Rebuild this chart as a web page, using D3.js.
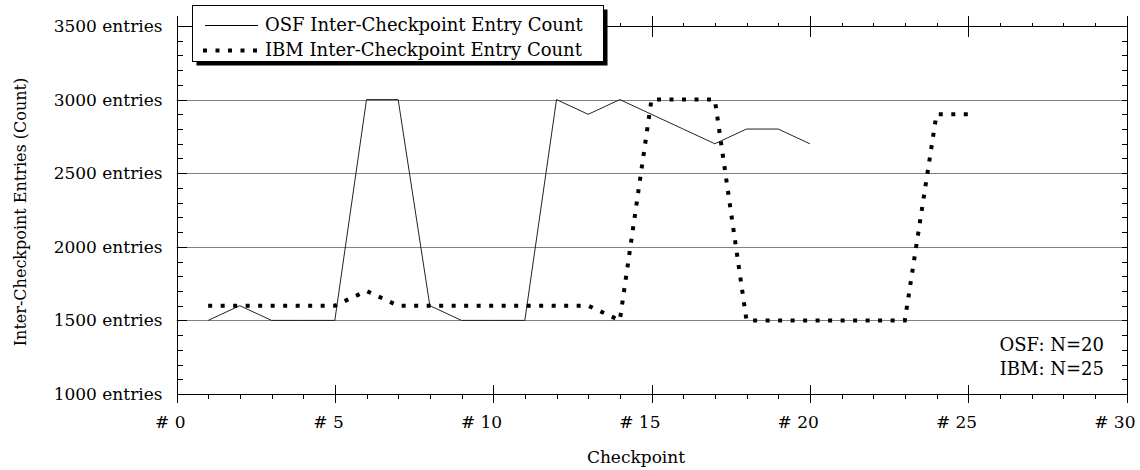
<!DOCTYPE html>
<html>
<head>
<meta charset="utf-8">
<script src="https://cdn.jsdelivr.net/npm/d3@7/dist/d3.min.js"></script>
<style>
body{margin:0;background:#fff;}
text{font-family:"DejaVu Serif",serif;font-size:17px;fill:#000;}
</style>
</head>
<body>
<div id="plot"></div>
<script>
//data
var osfCheckpoints = [1,2,3,4,5,6,7,8,9,10,11,12,13,14,15,16,17,18,19,20];
var osfCounts = [1500,1600,1500,1500,1500,3000,3000,1600,1500,1500,1500,3000,2900,3000,2900,2800,2700,2800,2800,2700];
var ibmCheckpoints = [1,2,3,4,5,6,7,8,9,10,11,12,13,14,15,16,17,18,19,20,21,22,23,24,25];
var ibmCounts = [1600,1600,1600,1600,1600,1700,1600,1600,1600,1600,1600,1600,1600,1500,3000,3000,3000,1500,1500,1500,1500,1500,1500,2900,2900];

var xTicks = [0,5,10,15,20,25,30];
var yTicks = [1000,1500,2000,2500,3000,3500];
var gridValues = [1500,2000,2500,3000];
var seriesNames = ['OSF Inter-Checkpoint Entry Count','IBM Inter-Checkpoint Entry Count'];
var noteLines = ['OSF: N=20','IBM: N=25'];

var margin = {t:26,r:13.5,b:76,l:176.5};
var width = 1140-margin.l-margin.r,
	height = 470-margin.t-margin.b;

var svg = d3.select('#plot')
	.append('svg')
	.attr('width',1140)
	.attr('height',470);

var plot = svg.append('g')
	.attr('transform','translate('+margin.l+','+margin.t+')');

var x = d3.scaleLinear().domain([0,30]).range([0,width]);
var y = d3.scaleLinear().domain([1000,3500]).range([height,0]);

var minorX = d3.range(0,31);
var minorY = d3.range(1000,3501,100);

//grid
plot.selectAll('.grid')
	.data(gridValues)
	.enter()
	.append('line')
	.attr('x1',0)
	.attr('x2',width)
	.attr('y1',function(d){return Math.round(y(d))+0.5;})
	.attr('y2',function(d){return Math.round(y(d))+0.5;})
	.style('stroke','#808080')
	.style('stroke-width',1);

function styleAxis(g){
	g.selectAll('path').style('stroke','#000').style('shape-rendering','crispEdges');
	g.selectAll('line').style('stroke','#000').style('shape-rendering','crispEdges');
	g.selectAll('text').style('font-family','"DejaVu Serif",serif').style('font-size','17px');
}

//bottom axis
plot.append('g')
	.attr('transform','translate(0,'+height+')')
	.call(d3.axisBottom(x).tickValues(minorX).tickSize(5).tickSizeOuter(0).tickFormat(''))
	.call(styleAxis);
var bottomMajor = plot.append('g')
	.attr('transform','translate(0,'+height+')')
	.call(d3.axisBottom(x).tickValues(xTicks).tickSize(9).tickSizeOuter(0).tickFormat(function(d){return '# '+d;}))
	.call(styleAxis);
bottomMajor.selectAll('text')
	.attr('text-anchor','end')
	.attr('x',8.5)
	.attr('y',34)
	.attr('dy',0);
plot.append('g')
	.attr('transform','translate(0,'+height+')')
	.call(d3.axisTop(x).tickValues(xTicks).tickSize(9).tickSizeOuter(0).tickFormat(''))
	.call(styleAxis);

//top axis
plot.append('g')
	.call(d3.axisTop(x).tickValues(minorX).tickSize(3).tickSizeOuter(0).tickFormat(''))
	.call(styleAxis);
plot.append('g')
	.call(d3.axisTop(x).tickValues(xTicks).tickSize(10).tickSizeOuter(0).tickFormat(''))
	.call(styleAxis);
plot.append('g')
	.call(d3.axisBottom(x).tickValues(xTicks).tickSize(11).tickSizeOuter(0).tickFormat(''))
	.call(styleAxis);

//left axis
plot.append('g')
	.call(d3.axisRight(y).tickValues(minorY).tickSize(6).tickSizeOuter(0).tickFormat(''))
	.call(styleAxis);
plot.append('g')
	.call(d3.axisRight(y).tickValues(yTicks).tickSize(10).tickSizeOuter(0).tickFormat(''))
	.call(styleAxis);
var leftLabels = plot.append('g')
	.call(d3.axisLeft(y).tickValues(yTicks).tickSize(0).tickPadding(14).tickFormat(function(d){return d+' entries';}))
	.call(styleAxis);
leftLabels.select('.domain').remove();

//right axis
plot.append('g')
	.attr('transform','translate('+width+',0)')
	.call(d3.axisLeft(y).tickValues(minorY).tickSize(5).tickSizeOuter(0).tickFormat(''))
	.call(styleAxis);

//lines
var line = d3.line()
	.x(function(d){return x(d[0]);})
	.y(function(d){return y(d[1]);});

plot.append('path')
	.datum(d3.zip(osfCheckpoints,osfCounts))
	.attr('d',line)
	.style('fill','none')
	.style('stroke','#222')
	.style('stroke-width',1);

plot.append('path')
	.datum(d3.zip(ibmCheckpoints,ibmCounts))
	.attr('d',line)
	.style('fill','none')
	.style('stroke','#000')
	.style('stroke-width',4)
	.style('stroke-dasharray','4,8.5');

//N notes
plot.selectAll('.note')
	.data(noteLines)
	.enter()
	.append('text')
	.attr('x',1104-margin.l)
	.attr('y',function(d,i){return 351-margin.t+i*24;})
	.attr('text-anchor','end')
	.style('font-size','18px')
	.text(function(d){return d;});

//axis titles
svg.append('text')
	.attr('x',636)
	.attr('y',463)
	.attr('text-anchor','middle')
	.text('Checkpoint');
svg.append('text')
	.attr('transform','translate(26,212) rotate(-90)')
	.attr('text-anchor','middle')
	.style('font-size','16px')
	.text('Inter-Checkpoint Entries (Count)');

//legend
var legend = svg.append('g');
legend.append('rect')
	.attr('x',196.5).attr('y',9.5)
	.attr('width',411).attr('height',56)
	.style('fill','#000');
legend.append('rect')
	.attr('x',192.5).attr('y',5.5)
	.attr('width',411).attr('height',56)
	.style('fill','#fff')
	.style('stroke','#000')
	.style('stroke-width',1);
legend.append('line')
	.attr('x1',205).attr('x2',258)
	.attr('y1',25.5).attr('y2',25.5)
	.style('stroke','#000').style('stroke-width',1);
legend.append('line')
	.attr('x1',203).attr('x2',262)
	.attr('y1',50.5).attr('y2',50.5)
	.style('stroke','#000').style('stroke-width',4)
	.style('stroke-dasharray','4,8.5');
legend.selectAll('.lab')
	.data(seriesNames)
	.enter()
	.append('text')
	.attr('x',265)
	.attr('y',function(d,i){return 31+i*25;})
	.style('font-size','18px')
	.text(function(d){return d;});
</script>
</body>
</html>
